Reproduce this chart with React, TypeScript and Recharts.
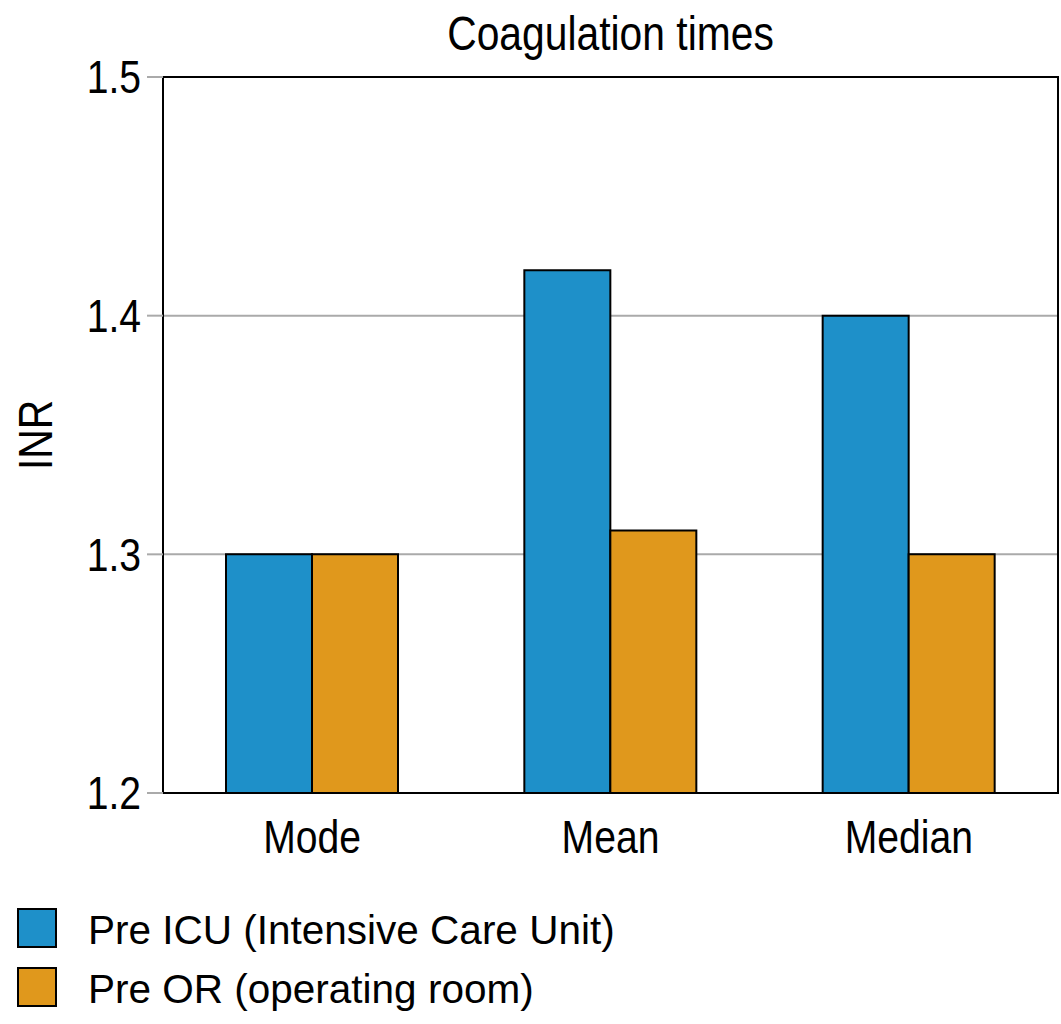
import React from 'react';
import {
  BarChart,
  Bar,
  XAxis,
  YAxis,
  CartesianGrid,
  ReferenceArea,
  Legend,
} from 'recharts';

const categories = ['Mode', 'Mean', 'Median'];
const preICU = [1.3, 1.419, 1.4];
const preOR = [1.3, 1.31, 1.3];
const yTicks = [1.2, 1.3, 1.4, 1.5];
const seriesNames = ['Pre ICU (Intensive Care Unit)', 'Pre OR (operating room)'];
const seriesColors = ['#1e90c9', '#e0981c'];

const data = categories.map((c, i) => ({ name: c, icu: preICU[i], or: preOR[i] }));

const FONT = '"Liberation Sans", Arial, Helvetica, sans-serif';
const SX = 0.85;

const XTick = (props: any) => {
  const { x, y, payload } = props;
  return (
    <g transform={`translate(${x},${y})`}>
      <text x={0} y={0} dy="0.71em" textAnchor="middle" transform={`scale(${SX},1)`} fontSize={46} fill="#000" fontFamily={FONT}>
        {payload.value}
      </text>
    </g>
  );
};

const YTick = (props: any) => {
  const { x, y, payload } = props;
  return (
    <g transform={`translate(${x},${y})`}>
      <text x={0} y={0} dy="0.355em" textAnchor="end" transform={`scale(${SX},1)`} fontSize={46} fill="#000" fontFamily={FONT}>
        {Number(payload.value).toFixed(1)}
      </text>
    </g>
  );
};

const YLabel = (props: any) => {
  const vb = props.viewBox || {};
  const cx = 52;
  const cy = (vb.y || 0) + (vb.height || 0) / 2;
  return (
    <g transform={`translate(${cx},${cy}) rotate(-90) scale(${SX},1)`}>
      <text x={0} y={0} textAnchor="middle" fontSize={48} fill="#000" fontFamily={FONT}>
        INR
      </text>
    </g>
  );
};

const LegendContent = () => (
  <div style={{ height: 127, position: 'relative', fontFamily: FONT }}>
    {seriesNames.map((n, i) => (
      <div
        key={n}
        style={{
          position: 'absolute',
          left: 17,
          top: 15 + i * 59,
          display: 'flex',
          alignItems: 'center',
          height: 40,
        }}
      >
        <div
          style={{
            width: 36,
            height: 36,
            background: seriesColors[i],
            border: '2px solid #000',
            flex: 'none',
          }}
        />
        <span style={{ marginLeft: 31, fontSize: 40.5, lineHeight: '40px', color: '#000', whiteSpace: 'nowrap', position: 'relative', top: 2 }}>{n}</span>
      </div>
    ))}
  </div>
);

export default function App() {
  return (
    <div style={{ position: 'absolute', left: 0, top: 0, width: 1061, height: 1024, background: '#fff', fontFamily: FONT }}>
      <div
        style={{
          position: 'absolute',
          left: 163,
          width: 895,
          top: 7,
          textAlign: 'center',
          fontSize: 48,
          color: '#000',
          lineHeight: '54px',
          zIndex: 2,
          transform: `scaleX(${SX})`,
          transformOrigin: '50% 50%',
          whiteSpace: 'nowrap',
        }}
      >
        Coagulation times
      </div>
      <BarChart
        width={1061}
        height={1024}
        data={data}
        margin={{ top: 77, right: 3, bottom: 4, left: 0 }}
        barCategoryGap={63}
        barGap={0}
      >
        <CartesianGrid horizontal vertical={false} stroke="#aaaaaa" strokeWidth={2} />
        <XAxis
          dataKey="name"
          height={100}
          tickLine={false}
          axisLine={{ stroke: '#000', strokeWidth: 2 }}
          tick={<XTick />}
          tickMargin={21}
        />
        <YAxis
          width={163}
          domain={[1.2, 1.5]}
          ticks={yTicks}
          tickLine={{ stroke: '#aaaaaa', strokeWidth: 2 }}
          tickSize={16}
          tickMargin={6}
          axisLine={{ stroke: '#000', strokeWidth: 2 }}
          tick={<YTick />}
          allowDataOverflow
          label={<YLabel />}
        />
        <ReferenceArea y1={1.2} y2={1.5} fill="none" stroke="#000" strokeWidth={2} ifOverflow="visible" />
        <Bar dataKey="icu" name={seriesNames[0]} fill={seriesColors[0]} stroke="#000" strokeWidth={2} isAnimationActive={false} />
        <Bar dataKey="or" name={seriesNames[1]} fill={seriesColors[1]} stroke="#000" strokeWidth={2} isAnimationActive={false} />
        <Legend verticalAlign="bottom" align="left" content={<LegendContent />} wrapperStyle={{ left: 0, width: 1061 }} />
      </BarChart>
    </div>
  );
}
